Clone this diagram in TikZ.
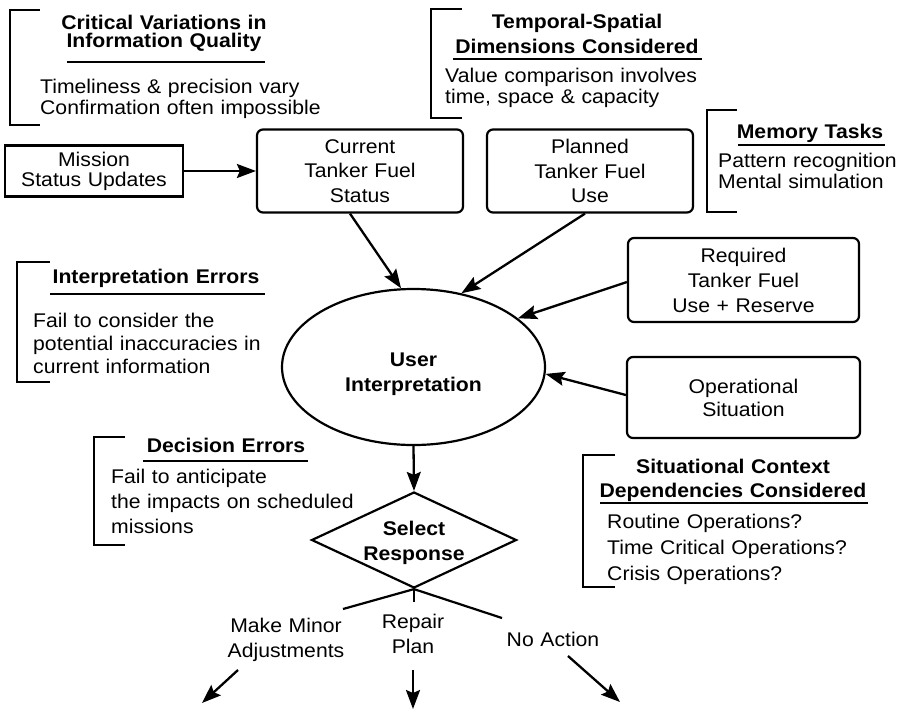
\documentclass[tikz,border=0pt]{standalone}
\usepackage{fontspec}
\setmainfont{Liberation Sans}[FakeStretch=1.07]
\usetikzlibrary{shapes.geometric,arrows.meta}
\begin{document}
\begin{tikzpicture}[x=1pt,y=-1pt,
  boxst/.style={draw, line width=2.2pt, rounded corners=6pt, inner sep=0pt, align=center, text width=200pt},
  sq/.style={draw, line width=2.2pt, inner sep=0pt, align=center, text width=170pt},
  ctitle/.style={anchor=base, inner sep=0pt, align=center, text width=320pt},
  lbody/.style={anchor=base west, inner sep=0pt, align=left, text width=320pt},
  brk/.style={line width=2.5pt},
  uline/.style={line width=1.2pt},
  arr/.style={line width=2.3pt, -{Stealth[length=19pt,width=14pt,inset=3pt]}},
  lnk/.style={line width=2.2pt}
]
\useasboundingbox[fill=white] (0,0) rectangle (901,710);
\newcommand{\fsz}[1]{\fontsize{19.8}{#1}\selectfont}

% ---------- annotation brackets ----------
\draw[brk] (40,10) -- (10,10) -- (10,125) -- (40,125);
\node[ctitle, font=\bfseries\fsz{18}] (cvT) at (164,29) {Critical Variations in\\Information Quality};
\draw[uline] (67,62) -- (265,62);
\node[lbody, font=\fsz{21}] (cvB) at (40,93) {Timeliness \& precision vary\\Confirmation often impossible};

\draw[brk] (462,9) -- (431,9) -- (431,118) -- (462,118);
\node[ctitle, font=\bfseries\fsz{25}] (tsT) at (577,28) {Temporal-Spatial\\Dimensions Considered};
\draw[uline] (453,59) -- (702,59);
\node[lbody, font=\fsz{21}] (tsB) at (445,82) {Value comparison involves\\time, space \& capacity};

\draw[brk] (737,110) -- (707,110) -- (707,212) -- (737,212);
\node[ctitle, font=\bfseries\fsz{24}] (mtT) at (810,138) {Memory Tasks};
\draw[uline] (738,145) -- (885,145);
\node[lbody, font=\fsz{21}] (mtB) at (718,167) {Pattern recognition\\Mental simulation};

\draw[brk] (50,262) -- (17,262) -- (17,382) -- (50,382);
\node[ctitle, font=\bfseries\fsz{24}] (ieT) at (156,283) {Interpretation Errors};
\draw[uline] (50,294) -- (265,294);
\node[lbody, font=\fsz{23}] (ieB) at (33,327) {Fail to consider the\\potential inaccuracies in\\current information};

\draw[brk] (125,437) -- (94,437) -- (94,545) -- (125,545);
\node[ctitle, font=\bfseries\fsz{24}] (deT) at (226,452) {Decision Errors};
\draw[uline] (143,461) -- (308,461);
\node[lbody, font=\fsz{25}] (deB) at (111,483) {Fail to anticipate\\the impacts on scheduled\\missions};

\draw[brk] (615,455) -- (583,455) -- (583,587) -- (615,587);
\node[ctitle, font=\bfseries\fsz{24}] (scT) at (733,473) {Situational Context\\Dependencies Considered};
\draw[uline] (600,503) -- (868,503);
\node[lbody, font=\fsz{26}] (scB) at (607,528) {Routine Operations?\\Time Critical Operations?\\Crisis Operations?};

% ---------- main nodes ----------
\node[sq, minimum width=178pt, minimum height=51pt, font=\fsz{20}] (mis) at (94,171) {Mission\\Status Updates};
\node[boxst, minimum width=206pt, minimum height=83pt, font=\fsz{24.5}] (cur) at (360,171) {Current\\Tanker Fuel\\Status};
\node[boxst, minimum width=206pt, minimum height=83pt, font=\fsz{24.5}] (pln) at (590,171) {Planned\\Tanker Fuel\\Use};
\node[boxst, minimum width=231pt, minimum height=84pt, font=\fsz{25}] (req) at (743.5,280) {Required\\Tanker Fuel\\Use + Reserve};
\node[boxst, minimum width=233pt, minimum height=81pt, font=\fsz{23}] (ops) at (743.5,397.5) {Operational\\Situation};
\node[draw, ellipse, line width=2.2pt, minimum width=263pt, minimum height=156pt, inner sep=0pt] (ui) at (413.5,367) {};
\node[inner sep=0pt, align=center, font=\bfseries\fsz{25}] (uit) at (413.5,374) {User\\Interpretation};
\node[draw, diamond, line width=2.2pt, aspect=2.13, minimum width=205pt, minimum height=96pt, inner sep=0pt] (dia) at (414,540) {};
\node[inner sep=0pt, align=center, font=\bfseries\fsz{25}] (diat) at (414,543) {Select\\Response};

% ---------- connectors ----------
\draw[arr] (mis.east) -- (mis.east -| cur.west);
\draw[arr] ([xshift=-10pt]cur.south) -- (ui.99.7);
\draw[arr] ([xshift=-5pt]pln.south) -- (ui.57.5);
\draw[arr] ([yshift=-2pt]req.west) -- (ui.25.2);
\draw[arr] ([yshift=2.5pt]ops.west) -- (ui.-3.4);
\draw[arr] (ui.south) -- (dia.north);

% ---------- branches ----------
\coordinate (bl) at (343,609);
\coordinate (br) at (502,618);
\coordinate (bm) at (414,602);
\draw[lnk] (dia.south) -- (bl);
\draw[lnk] (dia.south) -- (br);
\draw[lnk] (dia.south) -- (bm);

\node[ctitle, font=\fsz{25}] (mm) at (286,632) {Make Minor\\Adjustments};
\node[ctitle, font=\fsz{25}] (rp) at (413,628) {Repair\\Plan};
\node[ctitle, font=\fsz{25}] (na) at (553,646) {No Action};

\coordinate (mmS) at (238,670);
\coordinate (mmE) at (202,703);
\coordinate (rpS) at (413,670);
\coordinate (rpE) at (413,709);
\coordinate (naS) at (568,656);
\coordinate (naE) at (620,702);
\draw[arr] (mmS) -- (mmE);
\draw[arr] (rpS) -- (rpE);
\draw[arr] (naS) -- (naE);
\end{tikzpicture}
\end{document}
